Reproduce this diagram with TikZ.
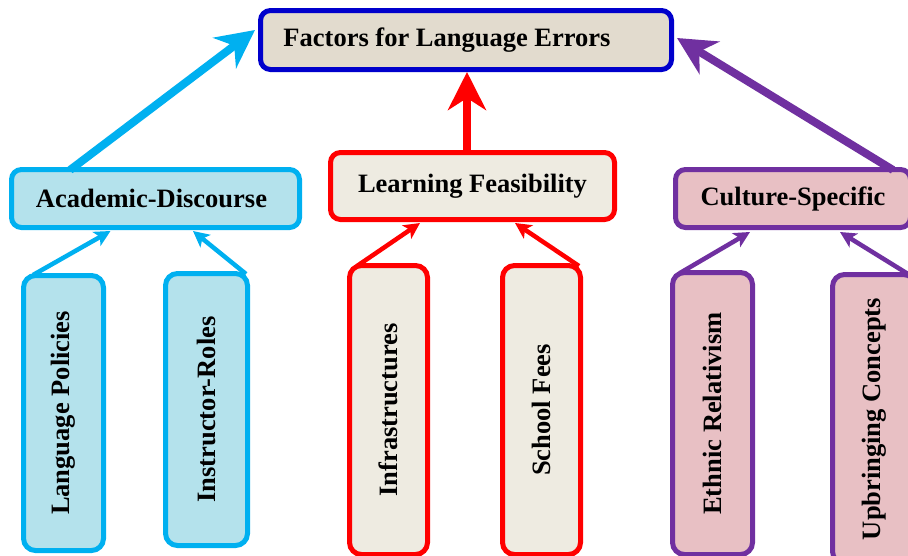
\documentclass[tikz,border=0pt]{standalone}
\usepackage{fontspec}
\setmainfont{Liberation Serif}
\usetikzlibrary{arrows.meta,calc}
\definecolor{topblue}{RGB}{0,0,204}
\definecolor{topfill}{RGB}{226,219,206}
\definecolor{cyanC}{RGB}{0,176,240}
\definecolor{cyanfill}{RGB}{180,226,236}
\definecolor{redC}{RGB}{255,0,0}
\definecolor{learnfill}{RGB}{238,235,225}
\definecolor{purpC}{RGB}{112,48,160}
\definecolor{pinkfill}{RGB}{232,192,196}
\begin{document}
\begin{tikzpicture}[x=1pt,y=-1pt,
  box/.style={draw, rounded corners=10pt, line width=5pt, inner sep=0pt,
    align=center, font=\fontsize{26.5}{30}\selectfont\bfseries},
  vbox/.style={box, rounded corners=12pt},
  bigarrow/.style={line width=8pt, -{Stealth[length=38pt,width=38pt,inset=12pt]}},
  smallarrow/.style={line width=4.5pt, -{Stealth[length=16pt,width=16pt,inset=4pt]}}
]
\clip (0,0) rectangle (908,555);
\fill[white] (0,0) rectangle (908,555);

% nodes
\node[box, draw=topblue, fill=topfill, minimum width=411pt, minimum height=59pt] (top) at (466,40) {\hspace*{-38pt}Factors for Language Errors};
\node[box, draw=cyanC, fill=cyanfill, minimum width=288pt, minimum height=58pt] (acad) at (155.5,198.5) {\hspace*{-8pt}Academic-Discourse};
\node[box, draw=redC, fill=learnfill, minimum width=284pt, minimum height=67pt] (learn) at (472.5,186) {Learning Feasibility};
\node[box, draw=purpC, fill=pinkfill, minimum width=235pt, minimum height=58pt] (cult) at (793,198.5) {Culture-Specific};

\node[vbox, draw=cyanC, fill=cyanfill, minimum width=80pt, minimum height=275pt] (lp) at (63.5,413) {\rotatebox{90}{Language Policies}};
\node[vbox, draw=cyanC, fill=cyanfill, minimum width=82pt, minimum height=272pt] (ir) at (206.5,409.5) {\rotatebox{90}{Instructor-Roles}};
\node[vbox, draw=redC, fill=learnfill, minimum width=78pt, minimum height=289pt] (inf) at (388.5,410) {\rotatebox{90}{Infrastructures}};
\node[vbox, draw=redC, fill=learnfill, minimum width=78pt, minimum height=289pt] (sf) at (541.5,410) {\rotatebox{90}{School Fees}};
\node[vbox, draw=purpC, fill=pinkfill, minimum width=80pt, minimum height=282pt] (er) at (712.5,413.5) {\rotatebox{90}{Ethnic Relativism}};
\node[vbox, draw=purpC, fill=pinkfill, minimum width=83pt, minimum height=289pt] (uc) at (874,419) {\rotatebox{90}{Upbringing Concepts}};

% big arrows
\draw[bigarrow, cyanC] ($(acad.north west)+(61,3)$) -- ($(top.west)+(-3,-10)$);
\draw[bigarrow, redC] ($(learn.north -| top.south)+(1,3)$) -- ($(top.south)+(1,0)$);
\draw[bigarrow, purpC] ($(cult.north east)+(-20,3)$) -- ($(top.east)+(3,-2)$);

% small arrows
\draw[smallarrow, cyanC] ($(lp.north west)+(12,2)$) -- ($(acad.south)+(-45,1)$);
\draw[smallarrow, cyanC] ($(ir.north east)+(-4,3)$) -- ($(acad.south)+(37.5,1)$);
\draw[smallarrow, redC] ($(inf.north west)+(10,3)$) -- ($(learn.south)+(-52.5,1)$);
\draw[smallarrow, redC] ($(sf.north east)+(-4,3)$) -- ($(learn.south)+(42.5,1)$);
\draw[smallarrow, purpC] ($(er.north west)+(10,3)$) -- ($(cult.south)+(-43,2)$);
\draw[smallarrow, purpC] ($(uc.north east)+(-10,2)$) -- ($(cult.south)+(47,2)$);
\end{tikzpicture}
\end{document}
